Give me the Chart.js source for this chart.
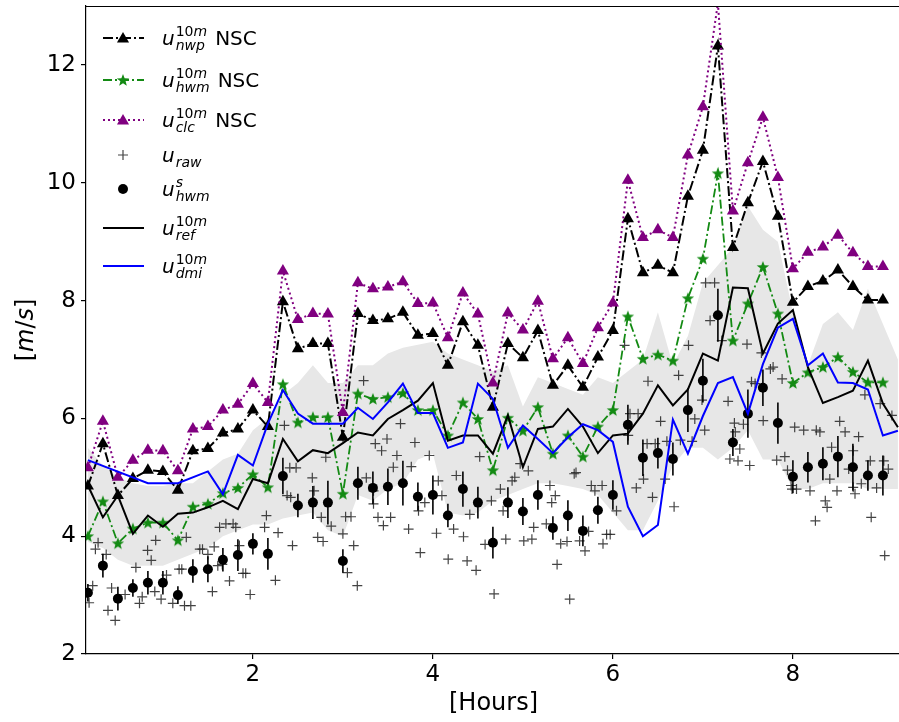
<!DOCTYPE html>
<html>
<head>
<meta charset="utf-8">
<script src="https://cdn.jsdelivr.net/npm/chart.js@4.4.1/dist/chart.umd.min.js"></script>
<style>
  html, body { margin: 0; padding: 0; background: #fff; overflow: hidden; }
  #wrap { width: 899px; height: 722px; overflow: hidden; }
  canvas { display: block; }
</style>
</head>
<body>
<div id="wrap"><canvas id="windChart" width="901" height="722"></canvas></div>
<script>
// time steps in minutes (10 min resolution)
const minutes = [10, 20, 30, 40, 50, 60, 70, 80, 90, 100, 110, 120, 130, 140, 150, 160, 170, 180,
    190, 200, 210, 220, 230, 240, 250, 260, 270, 280, 290, 300, 310, 320, 330, 340, 350, 360,
    370, 380, 390, 400, 410, 420, 430, 440, 450, 460, 470, 480, 490, 500, 510, 520, 530, 540, 550];

const uNwp = [4.85, 5.57, 4.69, 4.98, 5.12, 5.10, 4.78, 5.45, 5.49, 5.75, 5.82, 6.14, 5.86, 7.98, 7.18, 7.27, 7.27, 5.68,
    7.78, 7.66, 7.69, 7.80, 7.41, 7.44, 6.90, 7.64, 7.24, 6.19, 7.27, 7.03, 7.49, 6.56, 6.90, 6.53, 7.04, 7.49,
    9.39, 8.47, 8.60, 8.47, 9.77, 10.55, 12.32, 8.90, 9.66, 10.36, 9.43, 7.97, 8.24, 8.33, 8.52, 8.24, 8.01, 8.01];

const uHwm = [4.00, 4.59, 3.88, 4.13, 4.23, 4.23, 3.93, 4.50, 4.55, 4.73, 4.82, 5.05, 4.83, 6.58, 5.93, 6.02, 6.02, 4.72,
    6.42, 6.33, 6.36, 6.43, 6.14, 6.14, 5.71, 6.27, 5.99, 5.12, 6.01, 5.79, 6.19, 5.40, 5.71, 5.35, 5.86, 6.14,
    7.73, 7.01, 7.08, 6.98, 8.04, 8.71, 10.16, 7.32, 7.95, 8.57, 7.78, 6.60, 6.78, 6.87, 7.04, 6.79, 6.61, 6.61];

const uClc = [5.16, 5.95, 5.00, 5.29, 5.46, 5.45, 5.11, 5.82, 5.86, 6.14, 6.24, 6.59, 6.27, 8.50, 7.68, 7.78, 7.77, 6.10,
    8.30, 8.20, 8.23, 8.32, 7.95, 7.96, 7.37, 8.13, 7.77, 6.60, 7.79, 7.50, 7.99, 7.01, 7.37, 6.93, 7.54, 7.96,
    10.04, 9.07, 9.20, 9.07, 10.47, 11.29, 13.05, 9.52, 10.34, 11.11, 10.09, 8.54, 8.82, 8.91, 9.11, 8.81, 8.58, 8.58];

const uHwmS = [3.04, 3.50, 2.94, 3.12, 3.21, 3.21, 3.00, 3.41, 3.44, 3.60, 3.68, 3.87, 3.70, 5.02, 4.52, 4.57, 4.57, 3.58,
    4.90, 4.82, 4.84, 4.90, 4.67, 4.70, 4.35, 4.80, 4.57, 3.89, 4.57, 4.42, 4.70, 4.14, 4.35, 4.09, 4.44, 4.70,
    5.89, 5.33, 5.41, 5.31, 6.14, 6.64, 7.75, 5.59, 6.08, 6.52, 5.92, 5.01, 5.17, 5.23, 5.35, 5.17, 5.03, 5.03];

// half length of the error bars on uHwmS
const uHwmSErr = [0.15, 0.20, 0.20, 0.15, 0.20, 0.20, 0.15, 0.20, 0.22, 0.20, 0.27, 0.18, 0.27, 0.31, 0.20, 0.28, 0.37, 0.20,
    0.28, 0.28, 0.31, 0.38, 0.24, 0.33, 0.20, 0.30, 0.27, 0.27, 0.26, 0.23, 0.25, 0.20, 0.26, 0.26, 0.23, 0.25,
    0.34, 0.31, 0.26, 0.28, 0.37, 0.37, 0.45, 0.23, 0.41, 0.31, 0.35, 0.28, 0.26, 0.28, 0.35, 0.40, 0.26, 0.34];

const uRef = [4.86, 4.32, 4.69, 4.04, 4.35, 4.16, 4.38, 4.40, 4.49, 4.60, 4.46, 4.97, 4.90, 5.65, 5.27, 5.46, 5.41, 5.58,
    5.76, 5.71, 5.99, 6.14, 6.30, 6.60, 5.62, 5.71, 5.71, 5.40, 6.05, 5.17, 5.82, 5.86, 6.16, 5.86, 5.41, 5.71,
    5.74, 6.08, 6.56, 6.22, 6.49, 7.10, 6.98, 8.22, 8.21, 7.10, 7.61, 7.84, 6.87, 6.26, 6.36, 6.47, 6.98, 6.25, 5.85];

const uDmi = [5.29, null, null, null, 4.90, null, 4.90, null, 5.10, 4.71, 5.38, 5.20, 5.91, 6.48, 6.08, 5.91, 5.91, 5.91,
    6.18, 5.99, 6.27, 6.59, 6.09, 6.09, 5.50, 5.59, 6.59, 6.33, 5.50, 5.88, 5.65, 5.41, 5.68, 5.90, 5.80, 5.60,
    4.50, 4.00, 4.19, 5.98, 5.40, 6.04, 6.60, 6.70, 6.08, 6.92, 7.54, 7.69, 6.90, 7.10, 6.61, 6.60, 6.49, 5.71, 5.79];

// spread band (grey)
const bandUpper = [5.5, 5.2, 5.0, 4.9, 4.85, 4.85, 4.9, 4.9, 5.1, 5.3, 5.4, 5.8, 6.0, 6.4, 6.6, 6.9, 6.6, 6.6,
    6.9, 6.9, 7.1, 7.2, 7.25, 7.3, 7.1, 7.0, 6.9, 6.8, 6.9, 6.2, 6.7, 6.6, 6.5, 6.4, 6.7, 6.6,
    6.8, 7.0, 7.8, 6.9, 7.4, 8.3, 8.6, 8.9, 9.6, 9.2, 9.0, 7.8, 6.9, 7.6, 7.8, 7.5, 8.2, 7.6, 7.0];
const bandLower = [3.9, 3.8, 3.6, 3.5, 3.5, 3.5, 3.6, 3.7, 3.8, 4.0, 4.1, 4.2, 4.2, 4.3, 4.35, 4.4, 4.1, 4.0,
    4.7, 4.6, 4.8, 4.9, 5.3, 5.4, 4.4, 4.35, 4.4, 4.6, 4.7, 4.8, 4.9, 4.9, 4.85, 4.8, 4.7, 4.4,
    4.1, 4.1, 4.6, 5.2, 5.5, 5.5, 5.3, 5.5, 5.8, 5.3, 5.3, 4.8, 4.8, 4.9, 4.9, 4.9, 4.8, 4.8, 4.8];

// raw observations: time in hours, speed in m/s
const rawHours = [0.18, 0.22, 0.25, 0.28, 0.37, 0.39, 0.43, 0.47, 0.58, 0.70, 0.74, 0.77, 0.83, 0.87, 0.91, 0.92, 0.98,
    1.04, 1.11, 1.18, 1.21, 1.24, 1.26, 1.31, 1.41, 1.44, 1.50, 1.55, 1.57, 1.61, 1.63, 1.66, 1.70, 1.74, 1.78, 1.81,
    1.85, 1.89, 1.92, 1.97, 2.13, 2.15, 2.25, 2.28, 2.35, 2.38, 2.41, 2.42, 2.44, 2.48, 2.66, 2.68, 2.72, 2.76, 2.78,
    2.81, 2.87, 3.00, 3.03, 3.05, 3.09, 3.12, 3.16, 3.23, 3.26, 3.34, 3.34, 3.36, 3.39, 3.43, 3.45, 3.49, 3.53, 3.56,
    3.60, 3.64, 3.73, 3.76, 3.80, 3.84, 3.86, 3.91, 3.96, 4.04, 4.06, 4.10, 4.17, 4.23, 4.26, 4.34, 4.38, 4.41, 4.48,
    4.52, 4.58, 4.65, 4.68, 4.75, 4.78, 4.81, 4.88, 4.91, 4.97, 5.01, 5.06, 5.10, 5.12, 5.26, 5.30, 5.32, 5.36, 5.38,
    5.42, 5.49, 5.52, 5.57, 5.59, 5.63, 5.69, 5.73, 5.76, 5.80, 5.88, 5.89, 5.93, 5.97, 6.04, 6.13, 6.17, 6.19, 6.26,
    6.28, 6.34, 6.38, 6.39, 6.44, 6.47, 6.53, 6.58, 6.60, 6.68, 6.73, 6.75, 6.84, 6.88, 6.91, 6.99, 7.02, 7.03, 7.08,
    7.13, 7.21, 7.28, 7.30, 7.35, 7.36, 7.39, 7.41, 7.45, 7.49, 7.52, 7.54, 7.58, 7.65, 7.67, 7.75, 7.78, 7.82, 7.88,
    7.91, 7.94, 7.98, 7.99, 8.02, 8.04, 8.12, 8.19, 8.25, 8.26, 8.30, 8.36, 8.38, 8.41, 8.43, 8.49, 8.52, 8.58, 8.62,
    8.67, 8.67, 8.69, 8.73, 8.76, 8.80, 8.86, 8.87, 8.93, 8.97, 9.01, 9.02, 9.06, 9.10];
const rawSpeed = [2.87, 3.16, 3.78, 3.89, 3.69, 2.74, 3.12, 2.57, 3.01, 3.47, 2.86, 2.97, 3.76, 3.59, 3.06, 3.93, 2.93,
    3.34, 2.86, 3.44, 3.44, 2.82, 3.98, 2.82, 3.78, 3.78, 3.69, 3.06, 3.82, 3.50, 4.15, 3.52, 4.21, 3.24, 4.21, 4.15,
    3.84, 3.37, 3.37, 3.01, 4.15, 4.35, 3.25, 4.06, 5.88, 4.69, 5.16, 4.66, 3.84, 5.16, 4.99, 4.77, 3.98, 4.32, 3.91,
    5.34, 4.17, 4.04, 4.33, 3.38, 4.33, 3.84, 3.16, 6.64, 4.99, 4.77, 4.55, 5.57, 4.32, 5.45, 4.18, 5.65, 4.32, 5.17,
    5.37, 5.91, 4.12, 5.18, 5.59, 4.43, 3.72, 4.57, 5.37, 4.05, 4.94, 4.69, 3.61, 4.12, 5.03, 3.99, 3.58, 4.37, 3.42,
    5.35, 3.86, 4.60, 3.02, 4.80, 4.43, 3.95, 4.94, 5.00, 5.23, 3.92, 5.11, 3.95, 4.15, 4.21, 4.86, 4.57, 4.69, 3.52,
    3.87, 3.91, 2.93, 5.06, 5.08, 3.92, 3.75, 4.08, 4.86, 4.77, 4.86, 3.87, 4.03, 4.03, 4.43, 7.24, 5.71, 6.08, 4.82,
    6.08, 4.97, 5.57, 6.63, 4.66, 5.57, 5.95, 4.97, 5.61, 4.50, 6.73, 5.63, 7.24, 5.61, 5.99, 6.31, 5.80, 8.30, 7.66,
    8.30, 7.32, 6.29, 5.31, 5.92, 5.77, 5.28, 5.48, 5.90, 7.26, 5.20, 6.62, 6.59, 7.11, 5.96, 6.84, 6.87, 5.29, 6.67,
    5.35, 5.12, 4.86, 4.80, 5.85, 4.80, 5.80, 4.77, 4.26, 5.80, 5.77, 4.60, 4.49, 4.97, 5.51, 4.77, 5.95, 5.77, 5.14,
    5.45, 4.83, 4.72, 5.69, 4.89, 6.40, 5.28, 4.32, 4.82, 6.25, 5.28, 3.67, 5.14, 6.05];

const FONT = '"DejaVu Sans"';
const GREEN = '#138a13';
const PURPLE = '#800080';
const RAW = 'rgba(35,35,35,0.85)';

const hours = minutes.map(m => m / 60);
const pts = vals => vals.map((v, i) => ({ x: hours[i], y: v }));
const rawPts = rawHours.map((h, i) => ({ x: h, y: rawSpeed[i] }));

// filled five point star used as marker for the hwm series
function makeStar(size, color) {
    const c = document.createElement('canvas');
    c.width = size;
    c.height = size;
    const g = c.getContext('2d');
    const cx = size / 2, cy = size / 2 + 0.5;
    const ro = size / 2 - 0.5, ri = ro * 0.42;
    g.beginPath();
    for (let i = 0; i < 10; i++) {
        const r = i % 2 ? ri : ro;
        const a = -Math.PI / 2 + i * Math.PI / 5;
        g.lineTo(cx + r * Math.cos(a), cy + r * Math.sin(a));
    }
    g.closePath();
    g.fillStyle = color;
    g.fill();
    return c;
}
const starImg = makeStar(14, GREEN);

// vertical error bars under the hwm^s dots
const errorBars = {
    id: 'errorBars',
    beforeDatasetDraw(chart, args) {
        if (args.index !== 6) return;
        const { ctx, scales: { x, y } } = chart;
        ctx.save();
        ctx.strokeStyle = '#000';
        ctx.lineWidth = 1.6;
        ctx.beginPath();
        uHwmS.forEach((v, i) => {
            const px = x.getPixelForValue(hours[i]);
            ctx.moveTo(px, y.getPixelForValue(v - uHwmSErr[i]));
            ctx.lineTo(px, y.getPixelForValue(v + uHwmSErr[i]));
        });
        ctx.stroke();
        ctx.restore();
    }
};

// top spine, y axis label and the legend with sub/superscripts
function drawPieces(ctx, pieces, x, y, size) {
    let px = x;
    pieces.forEach(([t, it]) => {
        ctx.font = (it ? 'italic ' : '') + size + 'px ' + FONT;
        ctx.fillText(t, px, y);
        px += ctx.measureText(t).width;
    });
    return px - x;
}

const legendRows = [
    { y: 38, sup: [['10', false], ['m', true]], sub: 'nwp', tail: 'NSC', kind: 'nwp' },
    { y: 80, sup: [['10', false], ['m', true]], sub: 'hwm', tail: 'NSC', kind: 'hwm' },
    { y: 120, sup: [['10', false], ['m', true]], sub: 'clc', tail: 'NSC', kind: 'clc' },
    { y: 155, sup: null, sub: 'raw', tail: '', kind: 'raw' },
    { y: 189, sup: [['s', true]], sub: 'hwm', tail: '', kind: 'hwms' },
    { y: 228, sup: [['10', false], ['m', true]], sub: 'ref', tail: '', kind: 'ref' },
    { y: 266, sup: [['10', false], ['m', true]], sub: 'dmi', tail: '', kind: 'dmi' }
];

function triangle(ctx, x, y, r, color) {
    ctx.beginPath();
    for (let i = 0; i < 3; i++) {
        const a = i * 2 * Math.PI / 3;
        ctx.lineTo(x + Math.sin(a) * r, y - Math.cos(a) * r);
    }
    ctx.closePath();
    ctx.fillStyle = color;
    ctx.fill();
}

function sampleLine(ctx, y, color, dash, width) {
    ctx.beginPath();
    ctx.setLineDash(dash);
    ctx.strokeStyle = color;
    ctx.lineWidth = width;
    ctx.moveTo(103, y);
    ctx.lineTo(144, y);
    ctx.stroke();
    ctx.setLineDash([]);
}

const decorations = {
    id: 'decorations',
    afterDraw(chart) {
        const { ctx, chartArea: a } = chart;
        ctx.save();
        ctx.strokeStyle = '#000';
        ctx.lineWidth = 1.2;
        ctx.beginPath();
        ctx.moveTo(a.left, a.top + 0.5);
        ctx.lineTo(a.right, a.top + 0.5);
        ctx.stroke();

        // y axis label
        ctx.fillStyle = '#000';
        ctx.textBaseline = 'middle';
        ctx.translate(27, (a.top + a.bottom) / 2);
        ctx.rotate(-Math.PI / 2);
        const yl = [['[', false], ['m', true], ['/', false], ['s', true], [']', false]];
        let w = 0;
        yl.forEach(([t, it]) => { ctx.font = (it ? 'italic ' : '') + '24px ' + FONT; w += ctx.measureText(t).width; });
        drawPieces(ctx, yl, -w / 2, 0, 24);
        ctx.restore();

        // legend
        ctx.save();
        ctx.textBaseline = 'alphabetic';
        ctx.fillStyle = '#000';
        legendRows.forEach(row => {
            const my = row.y;
            if (row.kind === 'nwp') { sampleLine(ctx, my, '#000', [10, 3, 2, 3], 2); triangle(ctx, 123, my + 1, 7, '#000'); }
            if (row.kind === 'hwm') { sampleLine(ctx, my, GREEN, [9, 3, 2, 3], 1.8); ctx.drawImage(starImg, 116, my - 7); }
            if (row.kind === 'clc') { sampleLine(ctx, my, PURPLE, [2, 3], 2); triangle(ctx, 123, my + 1, 7, PURPLE); }
            if (row.kind === 'raw') {
                ctx.strokeStyle = RAW;
                ctx.lineWidth = 1.2;
                ctx.beginPath();
                ctx.moveTo(118, my); ctx.lineTo(128, my);
                ctx.moveTo(123, my - 5); ctx.lineTo(123, my + 5);
                ctx.stroke();
            }
            if (row.kind === 'hwms') { ctx.beginPath(); ctx.arc(123, my, 5, 0, 2 * Math.PI); ctx.fillStyle = '#000'; ctx.fill(); }
            if (row.kind === 'ref') sampleLine(ctx, my, '#000', [], 2);
            if (row.kind === 'dmi') sampleLine(ctx, my, '#0000ff', [], 2);

            ctx.fillStyle = '#000';
            const base = my + 7;
            ctx.font = 'italic 20px ' + FONT;
            ctx.fillText('u', 162, base);
            const sx = 162 + ctx.measureText('u').width + 1;
            let sw = 0;
            if (row.sup) sw = Math.max(sw, drawPieces(ctx, row.sup, sx, base - 9, 14));
            if (row.sub) sw = Math.max(sw, drawPieces(ctx, [[row.sub, true]], sx, base + 5, 14));
            if (row.tail) {
                ctx.font = '20px ' + FONT;
                ctx.fillText(row.tail, sx + sw + 8, base);
            }
        });
        ctx.restore();
    }
};

const tickFont = { family: FONT, size: 23 };

new Chart(document.getElementById('windChart'), {
    type: 'line',
    data: {
        datasets: [
            { data: pts(bandLower), borderWidth: 0, pointRadius: 0, fill: false, order: 20 },
            { data: pts(bandUpper), borderWidth: 0, pointRadius: 0, fill: '-1', backgroundColor: '#e7e7e7', order: 19 },
            {
                data: pts(uNwp), borderColor: '#000', borderWidth: 2, borderDash: [10, 3, 2, 3],
                pointStyle: 'triangle', pointRadius: 7, pointBackgroundColor: '#000', pointBorderColor: '#000',
                pointBorderWidth: 0, order: 7
            },
            {
                data: pts(uHwm), borderColor: GREEN, borderWidth: 1.8, borderDash: [9, 3, 2, 3],
                pointStyle: starImg, order: 6
            },
            {
                data: pts(uClc), borderColor: PURPLE, borderWidth: 2, borderDash: [2, 3],
                pointStyle: 'triangle', pointRadius: 7, pointBackgroundColor: PURPLE, pointBorderColor: PURPLE,
                pointBorderWidth: 0, order: 5
            },
            {
                data: rawPts, showLine: false, pointStyle: 'cross', pointRadius: 5, pointBorderWidth: 1.2,
                pointBorderColor: RAW, order: 4
            },
            {
                data: pts(uHwmS), showLine: false, pointStyle: 'circle', pointRadius: 5,
                pointBackgroundColor: '#000', pointBorderColor: '#000', pointBorderWidth: 0, order: 3
            },
            { data: pts(uRef), borderColor: '#000', borderWidth: 2, pointRadius: 0, order: 2 },
            { data: pts(uDmi), borderColor: '#0000ff', borderWidth: 2, pointRadius: 0, spanGaps: true, order: 1 }
        ]
    },
    options: {
        responsive: false,
        animation: false,
        devicePixelRatio: 1,
        layout: { autoPadding: false, padding: { top: 6, left: 0, right: 0, bottom: 0 } },
        elements: { line: { tension: 0 } },
        plugins: {
            legend: { display: false },
            tooltip: { enabled: false },
            filler: { drawTime: 'beforeDatasetsDraw' }
        },
        scales: {
            x: {
                type: 'linear',
                min: 0.1456,
                max: 9.2011,
                afterFit(s) { s.height = 68; s.paddingLeft = 0; s.paddingRight = 0; },
                ticks: { stepSize: 2, includeBounds: false, font: tickFont, color: '#000', padding: 2, maxRotation: 0 },
                grid: { drawOnChartArea: false, tickLength: 5, color: '#000', lineWidth: 1.2 },
                border: { display: true, color: '#000', width: 1.2 },
                title: { display: true, text: '[Hours]', color: '#000', font: { family: FONT, size: 24 }, padding: { top: 0, bottom: 4 } }
            },
            y: {
                min: 2,
                max: 13,
                afterFit(s) { s.width = 86; s.paddingTop = 0; s.paddingBottom = 0; },
                ticks: { stepSize: 2, includeBounds: false, font: tickFont, color: '#000', padding: 5 },
                grid: { drawOnChartArea: false, tickLength: 5, color: '#000', lineWidth: 1.2 },
                border: { display: true, color: '#000', width: 1.2 }
            }
        }
    },
    plugins: [errorBars, decorations]
});
</script>
</body>
</html>
